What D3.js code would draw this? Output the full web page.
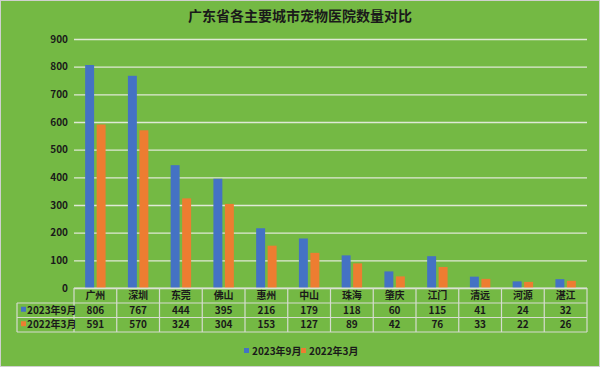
<!DOCTYPE html>
<html>
<head>
<meta charset="utf-8">
<script src="https://cdn.jsdelivr.net/npm/d3@7"></script>
<style>
  body { margin: 0; background: #fff; }
  text { font-family: "Noto Sans CJK SC", "Noto Sans", sans-serif; fill: #1a1a1a; }
</style>
</head>
<body>
<svg id="chart" width="600" height="367"></svg>
<script>
const cities = ["广州", "深圳", "东莞", "佛山", "惠州", "中山", "珠海", "肇庆", "江门", "清远", "河源", "湛江"];
const sep2023 = [806, 767, 444, 395, 216, 179, 118, 60, 115, 41, 24, 32];
const mar2022 = [591, 570, 324, 304, 153, 127, 89, 42, 76, 33, 22, 26];
const seriesNames = ["2023年9月", "2022年3月"];
const yTicks = [0, 100, 200, 300, 400, 500, 600, 700, 800, 900];

const colors = ["#4472c4", "#ed7d31"];
const W = 600, H = 367;
const plot = { left: 74, right: 587, top: 39, bottom: 288 };

const svg = d3.select("#chart");

// background + border
svg.append("rect").attr("x", 0.5).attr("y", 0.5).attr("width", W - 1).attr("height", H - 1)
    .attr("fill", "#74b944").attr("stroke", "#d0d0d0");

svg.append("text")
    .attr("x", 300).attr("y", 21)
    .attr("text-anchor", "middle")
    .attr("font-size", 14).attr("font-weight", "bold")
    .text("广东省各主要城市宠物医院数量对比");

const x = d3.scaleBand().domain(cities).range([plot.left, plot.right]);
const y = d3.scaleLinear().domain([0, 900]).range([plot.bottom, plot.top]);

// grid
const grid = d3.axisRight(y).tickValues(yTicks).tickFormat(() => null)
    .tickSizeOuter(0).tickSizeInner(plot.right - plot.left);
svg.append("g").attr("transform", `translate(${plot.left},0)`).call(grid)
    .call(g => g.select(".domain").remove())
    .call(g => g.selectAll("line").attr("stroke", "#dfe9d6").attr("stroke-width", 1.3));

// y labels
const yAxis = d3.axisLeft(y).tickValues(yTicks).tickSize(0).tickPadding(6);
svg.append("g").attr("transform", `translate(${plot.left},0)`).call(yAxis)
    .call(g => g.select(".domain").remove())
    .call(g => g.selectAll("text").attr("font-size", 10).attr("font-weight", "bold")
        .attr("fill", "#1a1a1a").attr("font-family", "\"Noto Sans CJK SC\", sans-serif"));

// bars
const inner = d3.scaleBand().domain([0, 1]).range([0, x.bandwidth()]).paddingOuter(0.97).paddingInner(0.22);
const series = [sep2023, mar2022];
series.forEach((vals, si) => {
    svg.append("g").selectAll("rect").data(vals).join("rect")
        .attr("x", (d, i) => x(cities[i]) + inner(si))
        .attr("width", inner.bandwidth())
        .attr("y", d => y(d))
        .attr("height", d => y(0) - y(d))
        .attr("fill", colors[si]);
});

// data table
const rowH = [288, 303, 317.5, 332];
const tableLeft = 17;
const tg = svg.append("g");
const lineColor = "#d6dccf";
rowH.forEach((ry, i) => {
    tg.append("line").attr("x1", i === 0 ? plot.left : tableLeft).attr("x2", plot.right)
        .attr("y1", ry).attr("y2", ry).attr("stroke", lineColor).attr("stroke-width", 1.2);
});
const cols = cities.map(c => x(c)).concat([plot.right]);
cols.forEach(cx => {
    tg.append("line").attr("x1", cx).attr("x2", cx).attr("y1", rowH[0]).attr("y2", rowH[3])
        .attr("stroke", lineColor).attr("stroke-width", 1.2);
});
tg.append("line").attr("x1", tableLeft).attr("x2", tableLeft).attr("y1", rowH[1]).attr("y2", rowH[3])
    .attr("stroke", lineColor).attr("stroke-width", 1.2);

tg.selectAll(".city").data(cities).join("text")
    .attr("x", d => x(d) + x.bandwidth() / 2).attr("y", (rowH[0] + rowH[1]) / 2 + 3.5)
    .attr("text-anchor", "middle").attr("font-size", 10).attr("font-weight", "bold")
    .text(d => d);

series.forEach((vals, si) => {
    const cy = (rowH[si + 1] + rowH[si + 2]) / 2 + 3.5;
    tg.append("g").selectAll("text").data(vals).join("text")
        .attr("x", (d, i) => x(cities[i]) + x.bandwidth() / 2).attr("y", cy)
        .attr("text-anchor", "middle").attr("font-size", 10).attr("font-weight", "bold")
        .text(d => d);
    tg.append("rect").attr("x", 21).attr("y", cy - 7).attr("width", 5).attr("height", 5)
        .attr("fill", colors[si]);
    tg.append("text").attr("x", 27).attr("y", cy).attr("font-size", 10).attr("font-weight", "bold")
        .text(seriesNames[si]);
});

// legend
const legend = svg.append("g").attr("transform", "translate(244,355)");
const legX = [0, 57];
seriesNames.forEach((name, i) => {
    legend.append("rect").attr("x", legX[i]).attr("y", -7).attr("width", 5).attr("height", 5)
        .attr("fill", colors[i]);
    legend.append("text").attr("x", legX[i] + 8).attr("y", 0).attr("font-size", 10)
        .attr("font-weight", "bold").text(name);
});
</script>
</body>
</html>
